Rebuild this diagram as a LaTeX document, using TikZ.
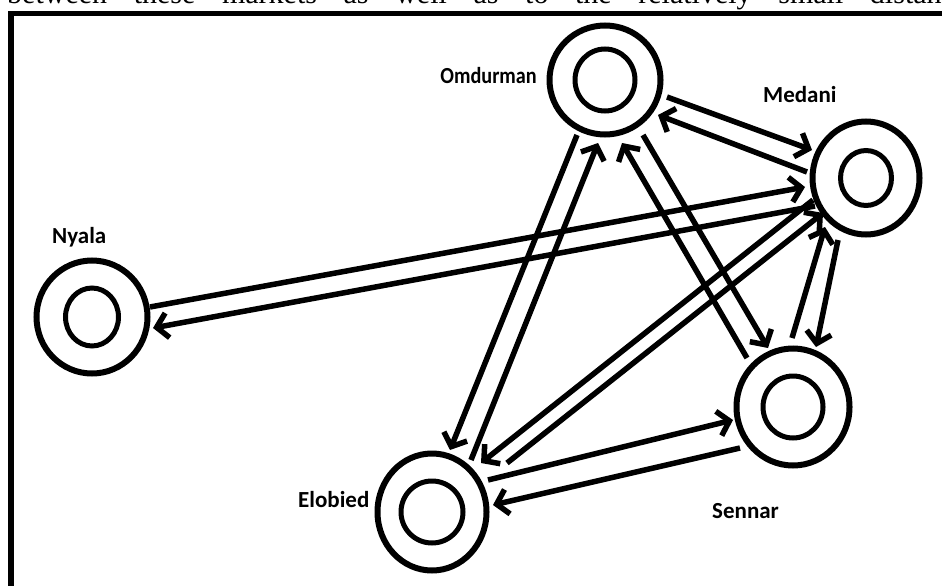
\documentclass[tikz,border=0pt]{standalone}
\usepackage{fontspec}
\setmainfont{Liberation Serif}
\newfontfamily\labelfont{Carlito}
\usetikzlibrary{arrows.meta,shapes.geometric}
\begin{document}
\begin{tikzpicture}[x=1pt,y=-1pt,
  town/.style={ellipse,draw,line width=6pt,inner sep=0pt},
  core/.style={ellipse,draw,line width=5pt,inner sep=0pt},
  route/.style={line width=5.5pt,-{Straight Barb[length=11pt,width=25pt]}},
  tag/.style={font=\labelfont\bfseries\fontsize{23}{28}\selectfont,inner sep=0pt}]
\useasboundingbox (0,0) rectangle (942,586);
\clip (0,0) rectangle (942,586);
\fill[white] (0,0) rectangle (942,586);
\node[anchor=base west,inner sep=0pt,font=\fontsize{30}{36}\selectfont] (topline) at (7,3.5)
  {\makebox[961pt][s]{between these markets as well as to the relatively small distance}};
\draw[line width=5.5pt] (11,600) |- (950,13.5);
% towns
\node[town,minimum width=111pt,minimum height=109pt] (om) at (605,80) {};
\node[core,minimum width=60pt,minimum height=62pt] (omc) at (om.center) {};
\node[town,minimum width=107pt,minimum height=113pt] (me) at (866,178) {};
\node[core,minimum width=51pt,minimum height=55pt] (mec) at (me.center) {};
\node[town,minimum width=111pt,minimum height=113pt] (ny) at (92,317) {};
\node[core,minimum width=53pt,minimum height=58pt] (nyc) at (ny.center) {};
\node[town,minimum width=109pt,minimum height=117pt] (el) at (432,512) {};
\node[core,minimum width=62pt,minimum height=62pt] (elc) at (el.center) {};
\node[town,minimum width=113pt,minimum height=117pt] (se) at (793,407) {};
\node[core,minimum width=60pt,minimum height=62pt] (sec) at (se.center) {};
% labels
\node[tag,anchor=base east] (omt) at (537,83) {\scalebox{0.88}[1]{Omdurman}};
\node[tag,anchor=base west] (met) at (763,102) {Medani};
\node[tag,anchor=base west] (nyt) at (52,243) {Nyala};
\node[tag,anchor=base west] (elt) at (298,507) {Elobied};
\node[tag,anchor=base west] (set) at (712,518) {Sennar};
% routes
\draw[route] ([shift={(62,17)}]om.center) -- ([shift={(-54,-28)}]me.center);
\draw[route] ([shift={(-59,-6)}]me.center) -- ([shift={(53,35)}]om.center);
\draw[route] ([shift={(-28,55)}]om.center) -- ([shift={(18,-62)}]el.center);
\draw[route] ([shift={(39,-52)}]el.center) -- ([shift={(-7,63)}]om.center);
\draw[route] ([shift={(-46,-49)}]se.center) -- ([shift={(17,63)}]om.center);
\draw[route] ([shift={(38,55)}]om.center) -- ([shift={(-25,-59)}]se.center);
\draw[route] ([shift={(58,-10)}]ny.center) -- ([shift={(-61,9)}]me.center);
\draw[route] ([shift={(-51,28)}]me.center) -- ([shift={(61,11)}]ny.center);
\draw[route] ([shift={(-53,22)}]me.center) -- ([shift={(49,-49)}]el.center);
\draw[route] ([shift={(75,-49)}]el.center) -- ([shift={(-43,35)}]me.center);
\draw[route] ([shift={(-1,-69)}]se.center) -- ([shift={(-41,49)}]me.center);
\draw[route] ([shift={(-28,62)}]me.center) -- ([shift={(23,-60)}]se.center);
\draw[route] ([shift={(56,-32)}]el.center) -- ([shift={(-60,13)}]se.center);
\draw[route] ([shift={(-53,41)}]se.center) -- ([shift={(61,-7)}]el.center);
\end{tikzpicture}
\end{document}
